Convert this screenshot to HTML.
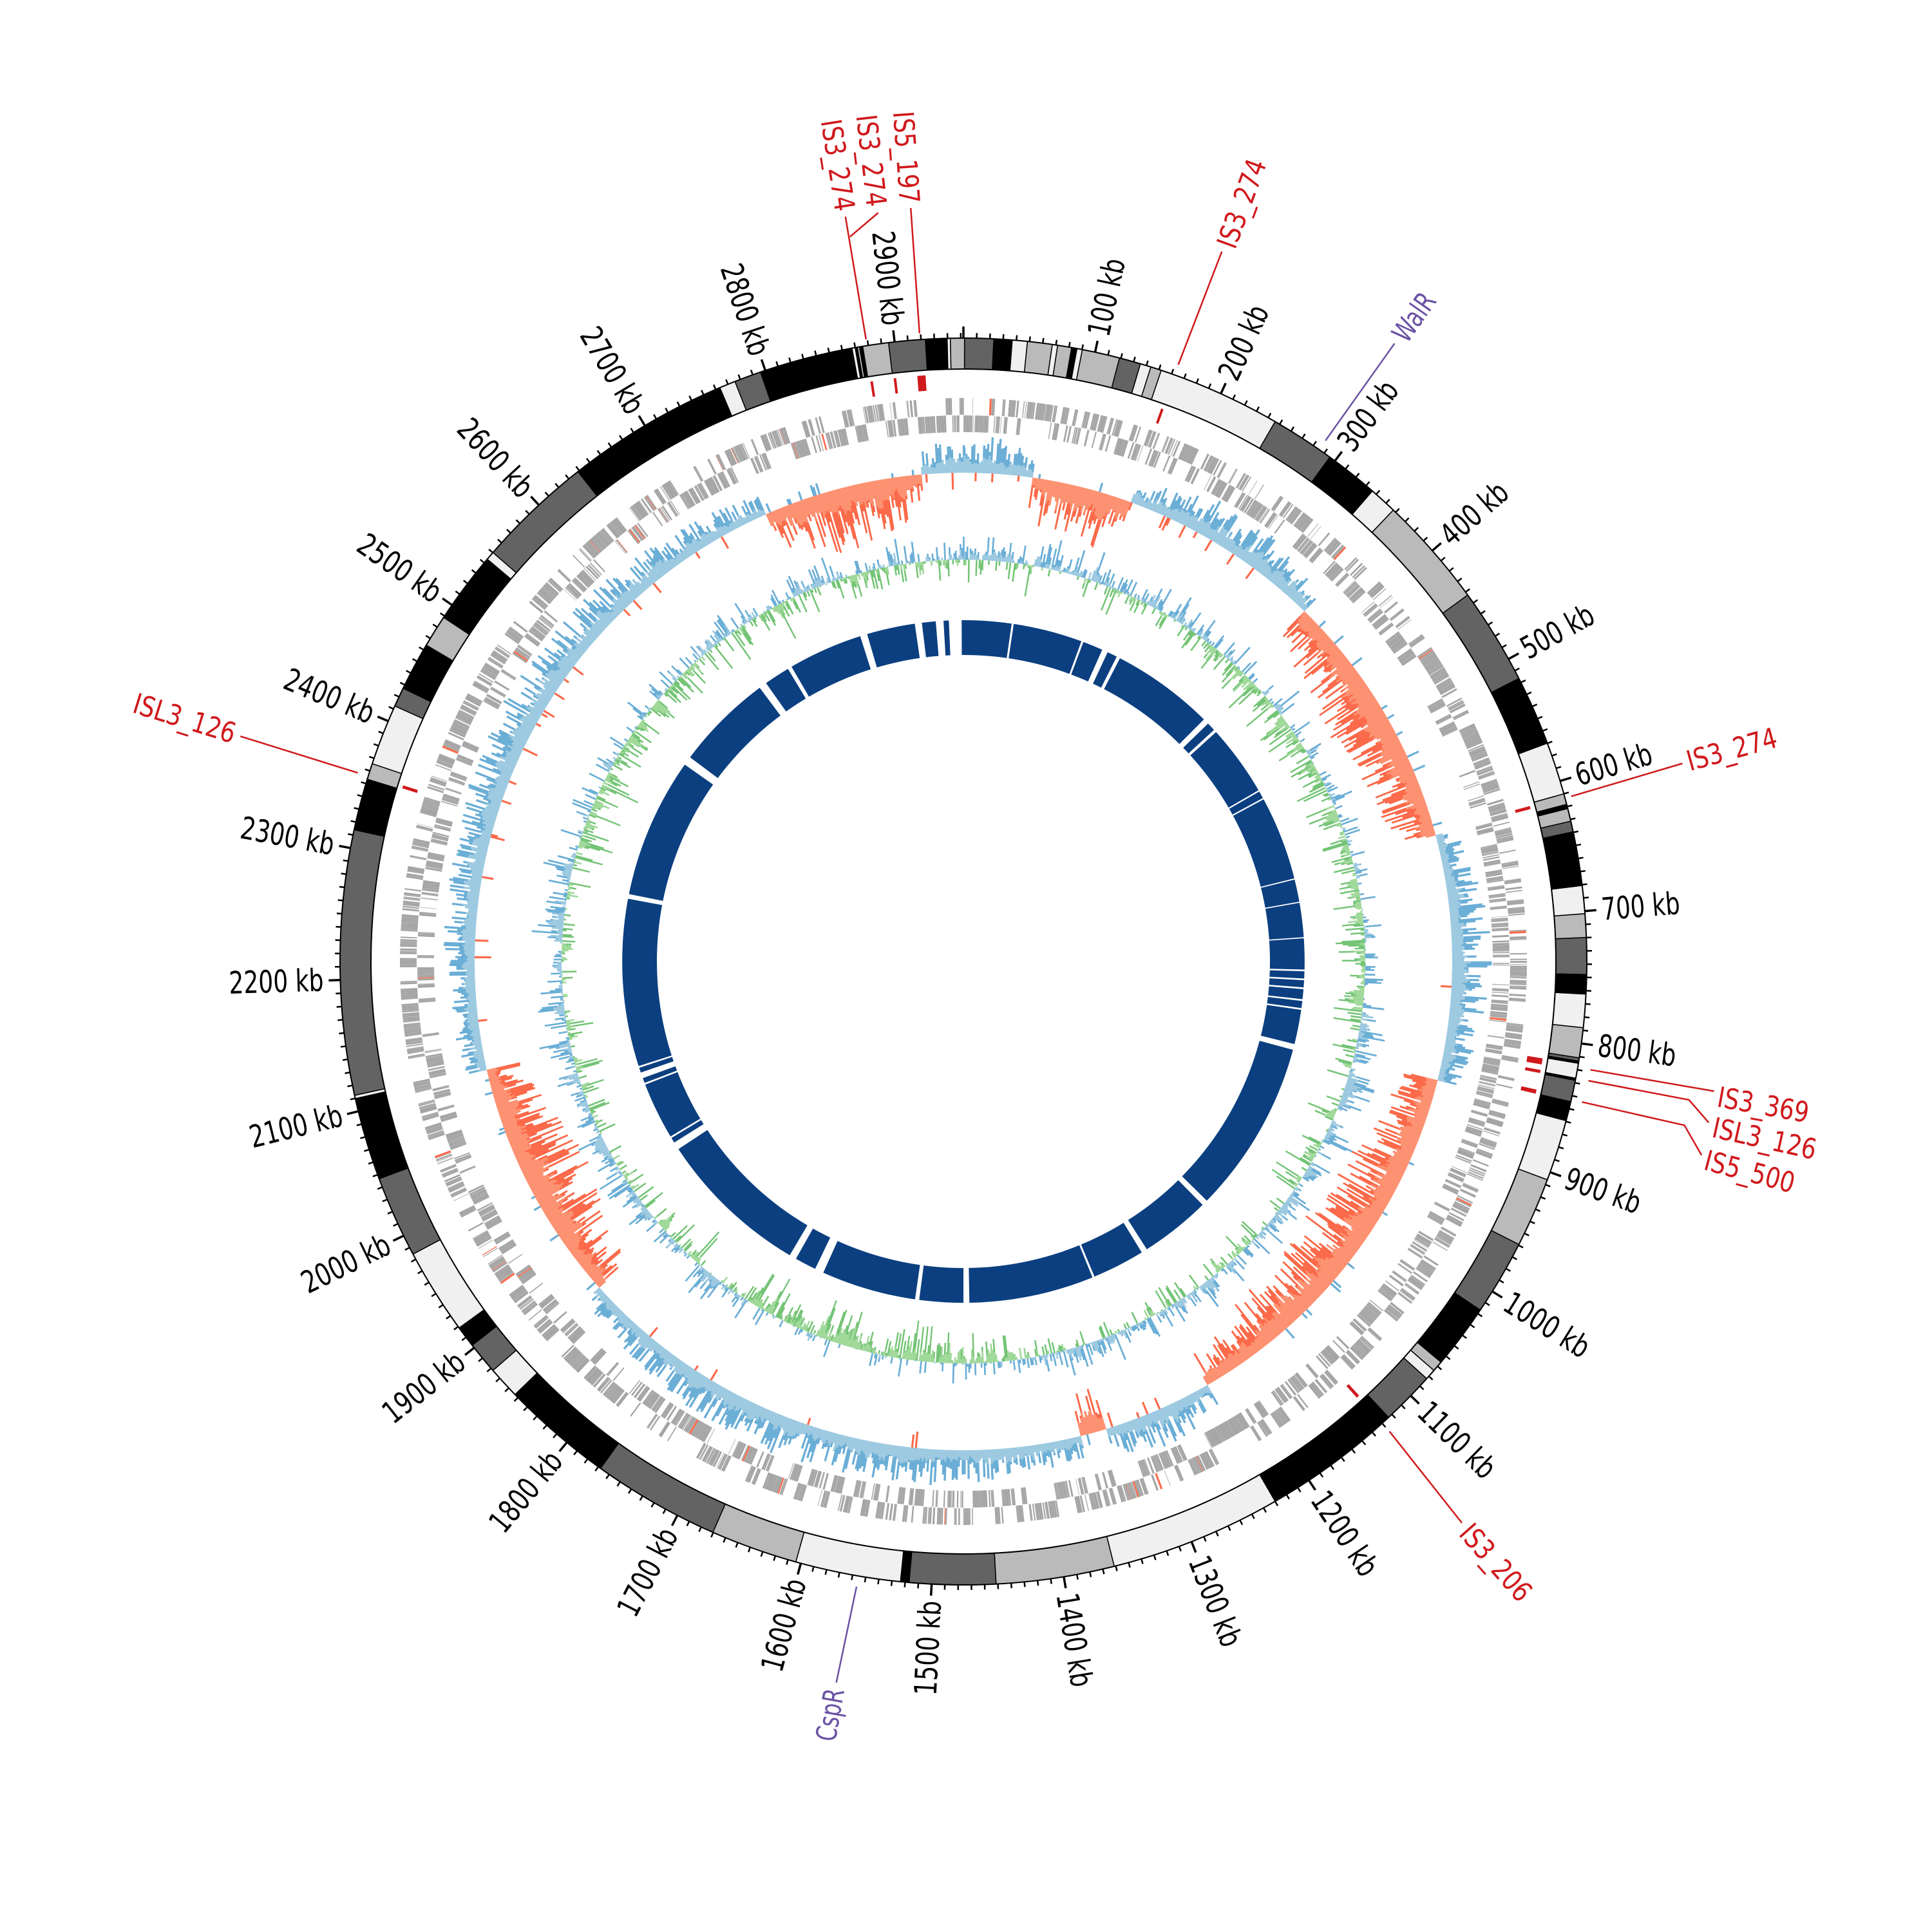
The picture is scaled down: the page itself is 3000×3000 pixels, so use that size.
<!DOCTYPE html>
<html><head><meta charset="utf-8">
<style>html,body{margin:0;padding:0;background:#fff;}svg{display:block;}</style>
</head><body>
<svg id="s" xmlns="http://www.w3.org/2000/svg" width="3000" height="3000" viewBox="0 0 3000 3000">
<rect width="3000" height="3000" fill="#fff"/>
</svg>
<script>
(function(){
const NS='http://www.w3.org/2000/svg';
const svg=document.getElementById('s');
const cx=1496,cy=1493,L=2952,rad=Math.PI/180;
function P(r,a){return [cx+r*Math.sin(a*rad),cy-r*Math.cos(a*rad)];}
function f(p){return p[0].toFixed(1)+' '+p[1].toFixed(1);}
function sec(r1,r2,a1,a2){const la=(a2-a1)>180?1:0;return 'M'+f(P(r2,a1))+'A'+r2+' '+r2+' 0 '+la+' 1 '+f(P(r2,a2))+'L'+f(P(r1,a2))+'A'+r1+' '+r1+' 0 '+la+' 0 '+f(P(r1,a1))+'Z';}
function quad(r1,r2,a1,a2){return 'M'+f(P(r1,a1))+'L'+f(P(r2,a1))+'L'+f(P(r2,a2))+'L'+f(P(r1,a2))+'Z';}
function add(tag,at,txt){const e=document.createElementNS(NS,tag);for(const k in at)e.setAttribute(k,at[k]);if(txt!==undefined)e.textContent=txt;svg.appendChild(e);return e;}
let seed=20240611;function rnd(){seed|=0;seed=seed+0x6D2B79F5|0;let t=Math.imul(seed^seed>>>15,1|seed);t=t+Math.imul(t^t>>>7,61|t)^t;return((t^t>>>14)>>>0)/4294967296;}
const RED='#d0191c',PUR='#6a51a3';
const B='#000',D='#636363',Lg='#bababa',W='#f0f0f0';

// ---------- gene track ----------
let gp='',op='';
let pos=0,row=0;
while(pos<L){
  if(rnd()<0.18)row=1-row;
  const len=0.3+rnd()*1.5;
  const a1=pos/L*360,a2=(pos+len)/L*360;
  const r=row?[849,875]:[822,848];
  if(rnd()<0.012) op+=quad(r[0],r[1],a1,a2); else gp+=quad(r[0],r[1],a1,a2);
  pos+=len+(rnd()<0.15?rnd()*1.5:0.06);
}
add('path',{d:gp,fill:'#a4a4a4'});
add('path',{d:op,fill:'#fb6a4a'});

// ---------- GC skew track ----------
const regs=[[355,368,1],[8,20,-1],[20,44,1],[44,75,-1],[75,104,1],[104,150,-1],[150,163,1],[163,166,-1],[166,228,1],[228,257,-1],[257,336,1],[336,355,-1]];
function reg(a){for(const g of regs){if(a>=g[0]&&a<g[1])return g;if(a+360>=g[0]&&a+360<g[1])return [g[0]-360,g[1]-360,g[2]];}return [0,360,1];}
const st=0.22;
let sm=0.5;
let bd='',bl='',rd='',rl='';
const r0=759;
for(let a=0;a<360;a+=st){
  const g=reg(a);const fr=(a-g[0])/(g[1]-g[0]);
  const env=0.55+0.45*Math.sin(Math.PI*fr);
  sm=sm*0.6+rnd()*0.4;
  const a2=a+st+0.02;
  if(g[2]>0){
    const d=62*env*(0.25+0.75*Math.pow(rnd(),1.3));
    const l=42*env*(0.15+0.75*sm);
    bd+=quad(r0,r0+d,a,a2);bl+=quad(r0,r0+Math.min(l,d),a,a2);
    if(rnd()<0.05){const x=8+rnd()*18;rd+=quad(r0-x,r0,a,a2);}
  }else{
    const d=100*env*(0.25+0.75*Math.pow(rnd(),1.3));
    const l=65*env*(0.15+0.75*sm);
    rd+=quad(r0-d,r0,a,a2);rl+=quad(r0-Math.min(l,d),r0,a,a2);
    if(rnd()<0.05){const x=6+rnd()*14;bd+=quad(r0,r0+x,a,a2);}
  }
}
add('path',{d:bd,fill:'#6baed6'});add('path',{d:bl,fill:'#9ecae1'});
add('path',{d:rd,fill:'#fb6a4a'});add('path',{d:rl,fill:'#fc9272'});

// ---------- GC content track ----------
const g0=624;
let gbd='',gbl='',ggd='',ggl='';
let s2=0,bias=0;
for(let a=0;a<360;a+=st){
  bias=0.35*Math.sin(a*rad*3+1)+0.15*Math.sin(a*rad*7);
  s2=s2*0.7+(rnd()-0.5)*0.7;
  const sp=(rnd()-0.5)*2*Math.pow(rnd(),0.8);
  const v=0.35*(s2+bias)+0.75*sp;
  const a2=a+st+0.02;
  if(v>0)gbd+=quad(g0,g0+Math.min(48,50*v*1.2),a,a2);else ggd+=quad(g0-Math.min(62,62*(-v)*1.2),g0,a,a2);
  const ls=(s2+bias*0.6)*(0.4+0.8*rnd());
  if(ls>0)gbl+=quad(g0,g0+Math.min(25,28*ls),a,a2);else ggl+=quad(g0-Math.min(35,40*(-ls)),g0,a,a2);
}
add('path',{d:gbd,fill:'#6baed6'});add('path',{d:ggd,fill:'#74c476'});
add('path',{d:gbl,fill:'#9ecae1'});add('path',{d:ggl,fill:'#a1d99b'});

// ---------- inner blue ring ----------
add('path',{d:sec(476,530,0,180)+sec(476,530,180,360),fill:'#0b3f80'});
const gaps=[[352.4,1.2],[356,1.3],[357.8,0.5],[358.7,2.0],[8.3,0.35],[20.4,0.35],[24.5,1.0],[27,0.6],[45.3,1.0],[47.5,0.5],[60,0.25],[61.5,0.25],[76,0.2],[80,0.2],[86,0.2],[91.5,0.3],[93,0.3],[94.5,0.3],[96.5,0.3],[98,0.3],[104.5,1.0],[135,1.0],[148,1.0],[157.6,0.35],[179.5,1.0],[187.8,0.7],[205,1.5],[210,1.2],[237.3,1.3],[239,0.3],[249,0.3],[250.5,1.0],[252,0.3],[281,0.8],[306,1.5],[324,1.3],[329.4,0.7],[343,1.2]];
let gpth='';for(const g of gaps)gpth+=quad(470,536,g[0]-g[1]/2,g[0]+g[1]/2);
add('path',{d:gpth,fill:'#fff'});

// ---------- IS marks ----------
const marks=[[-9,0.25],[-6.7,0.25],[-4.1,0.8],[19.8,0.25],[74.8,0.3],[99.8,0.6],[100.8,0.3],[102.8,0.4],[137.8,0.3],[287.3,0.3]];
let mp='';for(const m of marks)mp+=quad(888,912,m[0]-m[1]/2,m[0]+m[1]/2);
add('path',{d:mp,fill:RED});

// ---------- ideogram ----------
const bands=[[0.1,2.8,D],[2.8,4.5,B],[4.5,5.9,W],[5.9,8.2,Lg],[8.2,8.7,W],[8.7,10,Lg],[10,10.5,B],[10.5,11,W],[11,14.5,Lg],[14.5,16.5,D],[16.5,17.5,W],[17.5,18.5,Lg],[18.5,30,W],[30,36,D],[36,41,B],[41,43.6,W],[43.6,54,Lg],[54,63,D],[63,69.5,B],[69.5,74.4,W],[74.4,75.4,Lg],[75.4,75.8,B],[75.8,77,Lg],[77,78,D],[78,83,B],[83,85.6,W],[85.6,87.8,Lg],[87.8,91.2,D],[91.2,93,B],[93,96.1,W],[96.1,98.9,Lg],[98.9,99.2,D],[99.2,99.4,B],[99.4,100.8,W],[100.8,101,B],[101,103,D],[103,104.8,B],[104.8,110.5,W],[110.5,117,Lg],[117,124,D],[124,130,B],[130,131,Lg],[131,132,W],[132,137,D],[137,150,B],[150,166,W],[166,177,Lg],[177,185,D],[185,185.8,B],[185.8,195.6,W],[195.6,203.7,Lg],[203.7,215.6,D],[215.6,226,B],[226,229,W],[229,232,D],[232,234,B],[234,242,W],[242,249.6,D],[249.6,257.3,B],[257.3,257.6,W],[257.6,282.2,D],[282.2,287,B],[287,288.5,Lg],[288.5,294.2,W],[294.2,296,D],[296,300.5,B],[300.5,303.5,Lg],[303.5,310.2,B],[310.2,311,W],[311,321.8,D],[321.8,337,B],[337,338.5,W],[338.5,341,D],[341,349.7,B],[349.7,350,W],[350,350.2,B],[350.2,350.4,Lg],[350.4,350.7,B],[350.7,353.1,Lg],[353.1,356.5,D],[356.5,358.5,B],[358.5,358.8,W],[358.8,360.1,Lg]];
for(const b of bands)add('path',{d:sec(920,968,b[0],b[1]),fill:b[2],stroke:'#000','stroke-width':1.5});
add('circle',{cx:cx,cy:cy,r:968,fill:'none',stroke:'#000','stroke-width':2});
add('circle',{cx:cx,cy:cy,r:920,fill:'none',stroke:'#000','stroke-width':2});

// ---------- ticks ----------
let tk='',tM='';
for(let kb=0;kb<L;kb+=10){const a=kb/L*360;if(kb%100===0)tM+='M'+f(P(968,a))+'L'+f(P(986,a));else tk+='M'+f(P(968,a))+'L'+f(P(976,a));}
add('path',{d:tk,stroke:'#000','stroke-width':2.5,fill:'none'});
add('path',{d:tM,stroke:'#000','stroke-width':3.5,fill:'none'});
const FONT='"DejaVu Sans Condensed","DejaVu Sans","Liberation Sans",sans-serif';
function label(str,a,r,size,len,col){
  const p=P(r,a);let rot,anc;
  const aa=((a%360)+360)%360;
  if(aa<180){rot=aa-90;anc='start';}else{rot=aa+90;anc='end';}
  add('text',{x:p[0].toFixed(1),y:p[1].toFixed(1),transform:'rotate('+rot.toFixed(2)+' '+p[0].toFixed(1)+' '+p[1].toFixed(1)+')','text-anchor':anc,'dominant-baseline':'central','font-family':FONT,'font-stretch':'condensed','font-size':size,fill:col,textLength:len,lengthAdjust:'spacingAndGlyphs'},str);
}
for(let k=1;k<=29;k++){const a=k*100/L*360;const s=(k*100)+' kb';const nd=String(k*100).length;label(s,a,994,48,47+25*nd,'#000');}

// ---------- IS labels & connectors ----------
const labs=[
 ['IS3_274',[[978,-8.9],[1171,-9.0]],-9.0,1180,RED],
 ['IS3_274',[[1139,-8.9],[1170,-6.5]],-6.6,1180,RED],
 ['IS5_197',[[978,-4.0],[1173,-4.0]],-4.1,1180,RED],
 ['IS3_274',[[985,19.8],[1173,20.0]],20.2,1182,RED],
 ['WalR',[[985,34.8],[1170,34.9]],35.0,1180,PUR],
 ['IS3_274',[[978,74.8],[1158,74.6]],74.6,1166,RED],
 ['IS3_369',[[988,99.8],[1183,99.8]],100.2,1190,RED],
 ['ISL3_126',[[988,100.8],[1147,100.8],[1184,102.2]],102.5,1192,RED],
 ['IS5_500',[[985,102.8],[1148,102.8],[1185,104.7]],105.0,1192,RED],
 ['IS3_206',[[985,137.8],[1166,138.4]],138.5,1175,RED],
 ['CspR',[[985,189.7],[1137,190.0]],190.0,1147,PUR],
 ['ISL3_126',[[985,287.3],[1176,287.3]],287.3,1185,RED]
];
for(const l of labs){
  let d='';l[1].forEach((q,i)=>{d+=(i?'L':'M')+f(P(q[0],q[1]));});
  add('path',{d:d,stroke:l[4],'stroke-width':2.5,fill:'none'});
  label(l[0],l[2],l[3],44,20.5*l[0].length,l[4]);
}
})();
</script>
</body></html>
